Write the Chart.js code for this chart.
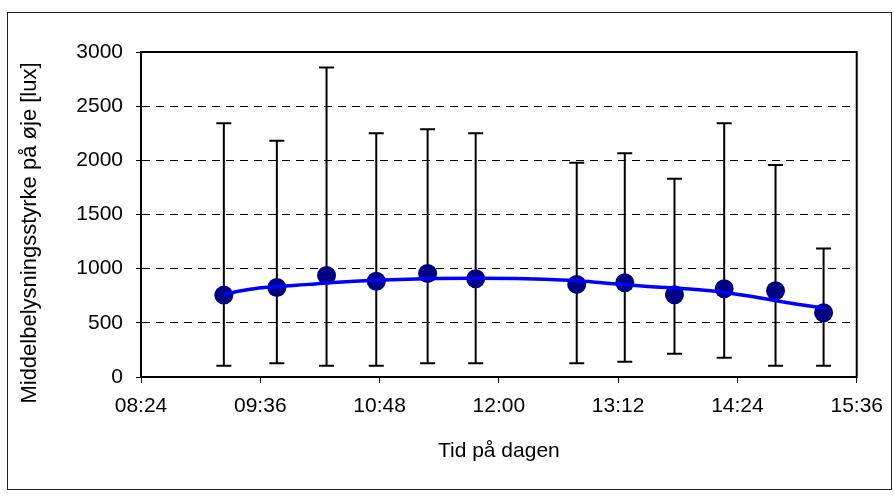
<!DOCTYPE html>
<html>
<head>
<meta charset="utf-8">
<script src="https://cdn.jsdelivr.net/npm/chart.js@4"></script>
<style>
  html, body { margin: 0; padding: 0; background: #fff; }
  canvas { display: block; }
</style>
</head>
<body>
<canvas id="chart" width="894" height="496"></canvas>
<script>
// Measurement times and mean illuminance at the eye (lux)
const times = ['09:14', '09:46', '10:16', '10:46', '11:17', '11:46', '12:47', '13:16', '13:46', '14:16', '14:47', '15:16'];
const means = [756, 827, 938, 883, 956, 907, 855, 870, 759, 815, 796, 593];
// error bar ends
const upper = [2343, 2180, 2857, 2251, 2288, 2251, 1977, 2066, 1830, 2343, 1956, 1187];
const lower = [104, 126, 104, 104, 126, 126, 126, 141, 215, 178, 104, 104];

// Blue trend line
const trendTimes = ['09:14', '09:30', '09:45', '10:05', '10:20', '10:45', '11:15', '11:45', '12:10', '12:45', '13:05', '13:30', '13:55', '14:15', '14:30', '14:45', '15:00', '15:16'];
const trendValues = [765, 810, 833, 855, 872, 893, 908, 912, 910, 890, 866, 836, 812, 783, 750, 710, 672, 636];

const xTicks = ['08:24', '09:36', '10:48', '12:00', '13:12', '14:24', '15:36'];
const yTicks = [0, 500, 1000, 1500, 2000, 2500, 3000];

const xTitle = 'Tid på dagen';
const yTitle = 'Middelbelysningsstyrke på øje [lux]';

const toMin = s => {
  const [h, m] = s.split(':').map(Number);
  return h * 60 + m;
};
const fmt = v => String(Math.floor(v / 60)).padStart(2, '0') + ':' + String(v % 60).padStart(2, '0');

const FONT = '"Liberation Sans", Arial, sans-serif';
Chart.defaults.font.family = FONT;
Chart.defaults.color = '#000';

// error bars under the markers
const errorBars = {
  id: 'errorBars',
  beforeDatasetsDraw(chart) {
    const { ctx, scales: { x, y } } = chart;
    ctx.save();
    ctx.strokeStyle = '#000';
    ctx.lineWidth = 2;
    times.forEach((t, i) => {
      const px = x.getPixelForValue(toMin(t));
      const yHi = y.getPixelForValue(upper[i]);
      const yLo = y.getPixelForValue(lower[i]);
      ctx.beginPath();
      ctx.moveTo(px, yHi);
      ctx.lineTo(px, yLo);
      ctx.moveTo(px - 7.5, yHi);
      ctx.lineTo(px + 7.5, yHi);
      ctx.moveTo(px - 7.5, yLo);
      ctx.lineTo(px + 7.5, yLo);
      ctx.stroke();
    });
    ctx.restore();
  }
};

// plot frame, outer border and axis titles
const frame = {
  id: 'frame',
  afterDraw(chart) {
    const { ctx, chartArea: a } = chart;
    ctx.save();
    ctx.strokeStyle = '#000';
    ctx.lineWidth = 2;
    ctx.strokeRect(a.left, a.top, a.right - a.left, a.bottom - a.top);
    ctx.lineWidth = 1;
    ctx.strokeStyle = '#222';
    ctx.strokeRect(7.5, 12.5, 884, 477);

    ctx.fillStyle = '#000';
    ctx.textAlign = 'center';
    ctx.textBaseline = 'middle';
    ctx.font = '21px ' + FONT;
    ctx.fillText(xTitle, (a.left + a.right) / 2, 451);
    ctx.translate(30, 233);
    ctx.rotate(-Math.PI / 2);
    ctx.font = '22px ' + FONT;
    ctx.fillText(yTitle, 0, 0);
    ctx.restore();
  }
};

new Chart(document.getElementById('chart'), {
  type: 'scatter',
  data: {
    datasets: [
      {
        label: 'Trend',
        data: trendTimes.map((t, i) => ({ x: toMin(t), y: trendValues[i] })),
        showLine: true,
        borderColor: '#0000ff',
        borderWidth: 3.5,
        pointRadius: 0,
        tension: 0.4,
        cubicInterpolationMode: 'monotone',
        order: 0
      },
      {
        label: 'Middel',
        data: times.map((t, i) => ({ x: toMin(t), y: means[i] })),
        pointRadius: 9.5,
        pointHoverRadius: 9.5,
        backgroundColor: '#000080',
        borderColor: '#000080',
        borderWidth: 0,
        order: 1
      }
    ]
  },
  options: {
    responsive: false,
    animation: false,
    events: [],
    layout: { padding: { left: 0, top: 52, right: 29, bottom: 0 } },
    plugins: {
      legend: { display: false },
      tooltip: { enabled: false }
    },
    scales: {
      x: {
        type: 'linear',
        min: toMin(xTicks[0]),
        max: toMin(xTicks[xTicks.length - 1]),
        afterBuildTicks: s => { s.ticks = xTicks.map(t => ({ value: toMin(t) })); },
        afterFit: s => { s.height = 119; },
        ticks: {
          callback: v => fmt(v),
          font: { size: 21 },
          color: '#000',
          padding: 11,
          maxRotation: 0,
          autoSkip: false
        },
        grid: {
          drawOnChartArea: false,
          drawTicks: true,
          tickLength: 6,
          tickColor: '#000',
          tickWidth: 1
        },
        border: { display: true, color: '#000', width: 2 }
      },
      y: {
        min: 0,
        max: 3000,
        afterBuildTicks: s => { s.ticks = yTicks.map(v => ({ value: v })); },
        afterFit: s => { s.width = 141; },
        ticks: {
          callback: v => String(v),
          font: { size: 21 },
          color: '#000',
          padding: 13
        },
        grid: {
          color: c => (c.tick && (c.tick.value === 0 || c.tick.value === 3000)) ? 'rgba(0,0,0,0)' : '#000',
          lineWidth: 1,
          tickLength: 5,
          tickColor: '#000',
          tickWidth: 1,
          tickBorderDash: []
        },
        border: { display: true, color: '#000', width: 2, dash: [8, 6] }
      }
    }
  },
  plugins: [errorBars, frame]
});
</script>
</body>
</html>
